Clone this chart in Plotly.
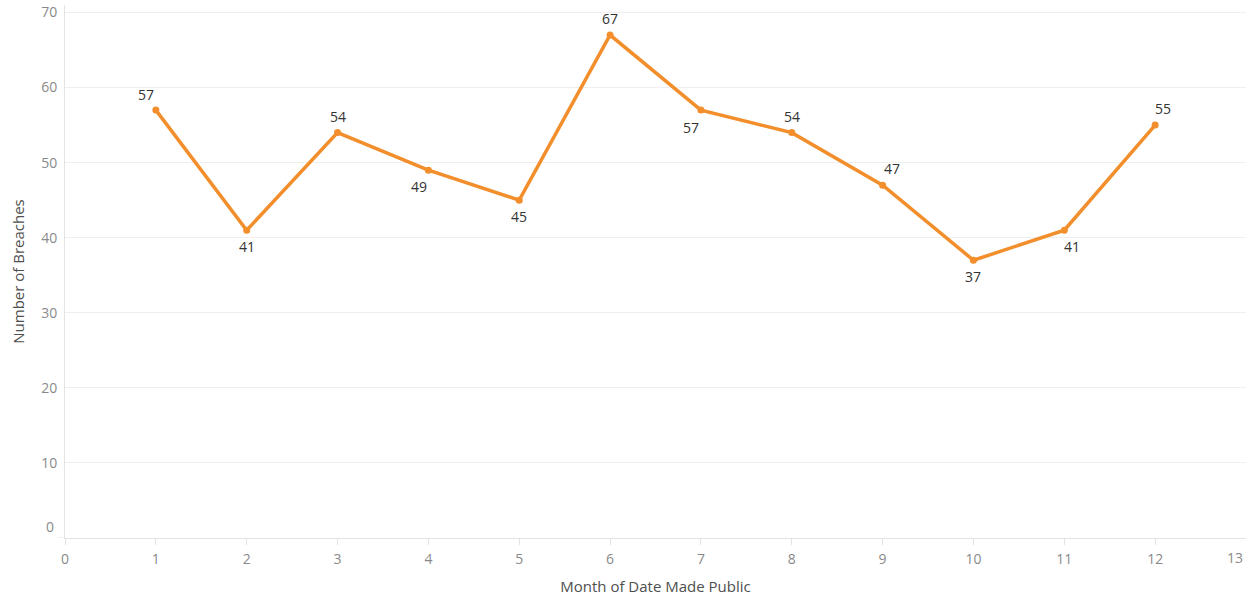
import plotly.graph_objects as go

# Breaches made public per month
months = [1, 2, 3, 4, 5, 6, 7, 8, 9, 10, 11, 12]
breaches = [57, 41, 54, 49, 45, 67, 57, 54, 47, 37, 41, 55]

x_ticks = list(range(0, 13))
y_ticks = [10, 20, 30, 40, 50, 60, 70]

# label placement around each point (pixels: right, up)
label_offsets = [(-10, 16), (0, -16), (0, 16), (-9, -16), (0, -16), (0, 17),
                 (-10, -17), (0, 16), (9, 17), (0, -16), (8, -16), (8, 17)]

LINE = "#F28E2B"
GRID = "#EFEFEF"
AXIS = "#E3E3E3"
FONT = "Open Sans, Lato, sans-serif"
TICK_FONT = dict(family=FONT, size=14, color="#8A8A8A")
TITLE_FONT = dict(family=FONT, size=15, color="#4F4F4F")

fig = go.Figure()
fig.add_trace(go.Scatter(
    x=months, y=breaches, mode="lines+markers",
    line=dict(color=LINE, width=3.5),
    marker=dict(color=LINE, size=7),
    hoverinfo="x+y", showlegend=False,
))

annotations = []
for m, v, (dx, dy) in zip(months, breaches, label_offsets):
    annotations.append(dict(
        x=m, y=v, text=str(v), showarrow=False,
        xshift=dx, yshift=dy,
        font=dict(family=FONT, size=14, color="#333333"),
    ))
# edge tick labels, nudged inside the chart
annotations.append(dict(
    xref="paper", x=0, y=0, text="0", showarrow=False,
    xanchor="right", xshift=-9, yshift=12, font=TICK_FONT,
))
annotations.append(dict(
    x=13, yref="paper", y=0, text="13", showarrow=False,
    xanchor="right", yanchor="top", xshift=-1, yshift=-8, font=TICK_FONT,
))

fig.update_layout(
    width=1251, height=597,
    margin=dict(l=65, r=5, t=5, b=59),
    paper_bgcolor="white", plot_bgcolor="white",
    annotations=annotations,
    shapes=[dict(type="line", xref="paper", yref="y", x0=-0.006, x1=0, y0=0, y1=0,
                 line=dict(color=AXIS, width=1))],
    xaxis=dict(
        range=[0, 13], tickvals=x_ticks, showgrid=False, zeroline=False,
        showline=True, linecolor=AXIS, linewidth=1, automargin=False,
        ticks="outside", ticklen=6, tickcolor=AXIS,
        ticklabelstandoff=2, tickfont=TICK_FONT,
        title=dict(text="Month of Date Made Public", font=TITLE_FONT, standoff=14),
    ),
    yaxis=dict(
        range=[0, 71], tickvals=y_ticks, showgrid=True, gridcolor=GRID,
        zeroline=False, showline=True, linecolor=AXIS, linewidth=1, automargin=False,
        ticks="", ticklabelstandoff=4, tickfont=TICK_FONT,
        title=dict(text="Number of Breaches", font=TITLE_FONT, standoff=12),
    ),
)

fig.write_html("out.html")
